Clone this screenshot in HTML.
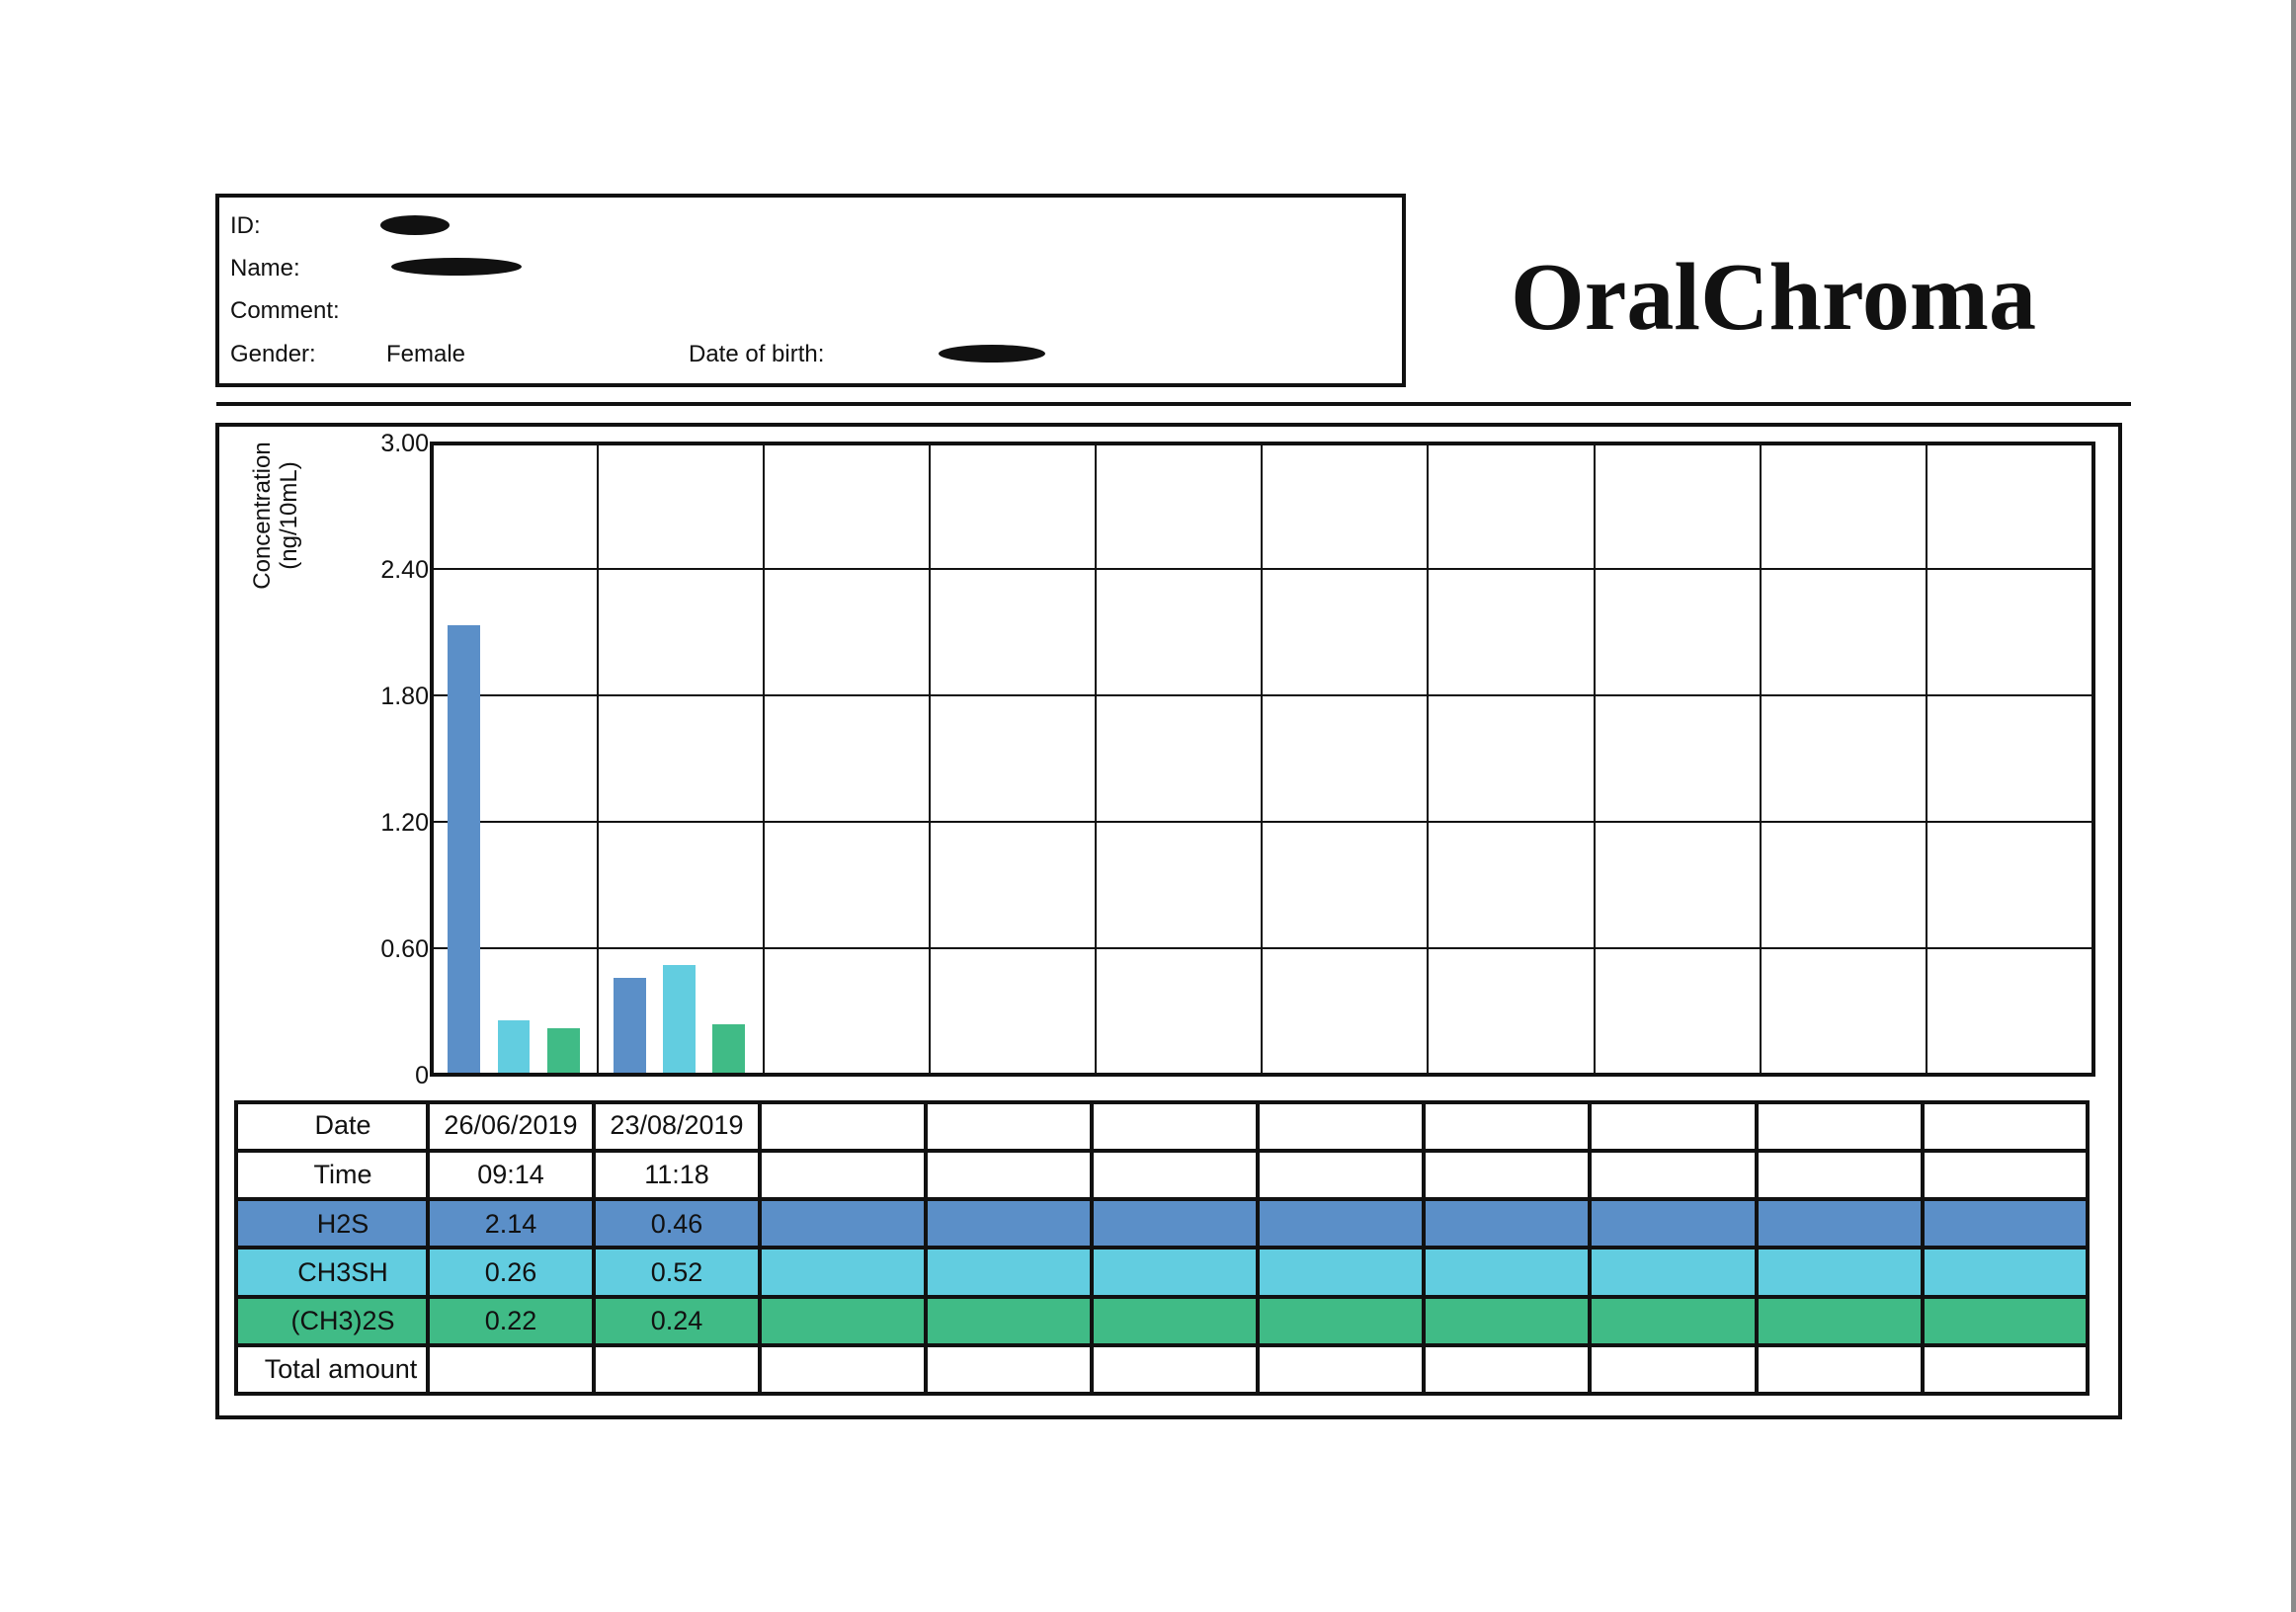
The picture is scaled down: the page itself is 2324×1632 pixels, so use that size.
<!DOCTYPE html>
<html><head><meta charset="utf-8"><style>
html,body{margin:0;padding:0;background:#fff}
svg{display:block}
text{font-family:"Liberation Sans",sans-serif;fill:#111}
</style></head><body>
<svg width="2324" height="1632" viewBox="0 0 2324 1632" xmlns="http://www.w3.org/2000/svg">
<rect x="0" y="0" width="2324" height="1632" fill="#fff"/>
<rect x="2319" y="0" width="5" height="1632" fill="#8a8a8a"/>

<!-- info box -->
<rect x="220" y="198" width="1201" height="192" fill="none" stroke="#111" stroke-width="4"/>
<g font-size="24">
<text x="233" y="236">ID:</text>
<text x="233" y="279">Name:</text>
<text x="233" y="322">Comment:</text>
<text x="233" y="366">Gender:</text>
<text x="391" y="366">Female</text>
<text x="697" y="366">Date of birth:</text>
</g>
<ellipse cx="420" cy="228" rx="35" ry="10" fill="#111"/>
<ellipse cx="462" cy="270" rx="66" ry="9" fill="#111"/>
<ellipse cx="1004" cy="358" rx="54" ry="9" fill="#111"/>

<text x="1529" y="333" font-family="'Liberation Serif',serif" font-weight="bold" font-size="98" textLength="532" lengthAdjust="spacingAndGlyphs" style="font-family:'Liberation Serif',serif">OralChroma</text>

<line x1="219" y1="409" x2="2157" y2="409" stroke="#111" stroke-width="4"/>

<!-- outer chart box -->
<rect x="220" y="430" width="1926" height="1005" fill="none" stroke="#111" stroke-width="4"/>

<!-- y axis title -->
<text transform="translate(273,522) rotate(-90)" text-anchor="middle" font-size="24">Concentration</text>
<text transform="translate(300,522) rotate(-90)" text-anchor="middle" font-size="24">(ng/10mL)</text>

<!-- tick labels -->
<g font-size="25" text-anchor="end">
<text x="434" y="457">3.00</text>
<text x="434" y="585">2.40</text>
<text x="434" y="713">1.80</text>
<text x="434" y="841">1.20</text>
<text x="434" y="969">0.60</text>
<text x="434" y="1097">0</text>
</g>

<!-- grid -->
<g stroke="#111" stroke-width="2">
<line x1="437" y1="576" x2="2119" y2="576"/>
<line x1="437" y1="704" x2="2119" y2="704"/>
<line x1="437" y1="832" x2="2119" y2="832"/>
<line x1="437" y1="960" x2="2119" y2="960"/>
<line x1="605" y1="448" x2="605" y2="1088"/>
<line x1="773" y1="448" x2="773" y2="1088"/>
<line x1="941" y1="448" x2="941" y2="1088"/>
<line x1="1109" y1="448" x2="1109" y2="1088"/>
<line x1="1277" y1="448" x2="1277" y2="1088"/>
<line x1="1445" y1="448" x2="1445" y2="1088"/>
<line x1="1614" y1="448" x2="1614" y2="1088"/>
<line x1="1782" y1="448" x2="1782" y2="1088"/>
<line x1="1950" y1="448" x2="1950" y2="1088"/>
</g>

<!-- bars -->
<rect x="453" y="633" width="33" height="455" fill="#5b8fc8"/>
<rect x="504" y="1033" width="32" height="55" fill="#62cde0"/>
<rect x="554" y="1041" width="33" height="47" fill="#40bb86"/>
<rect x="621" y="990" width="33" height="98" fill="#5b8fc8"/>
<rect x="671" y="977" width="33" height="111" fill="#62cde0"/>
<rect x="721" y="1037" width="33" height="51" fill="#40bb86"/>

<rect x="437" y="449" width="1682" height="639" fill="none" stroke="#111" stroke-width="4"/>

<!-- table -->
<rect x="238" y="1214" width="1875" height="49" fill="#5b8fc8"/>
<rect x="238" y="1263" width="1875" height="50" fill="#62cde0"/>
<rect x="238" y="1313" width="1875" height="49" fill="#40bb86"/>
<g stroke="#111" stroke-width="4">
<line x1="238" y1="1165" x2="2113" y2="1165"/>
<line x1="238" y1="1214" x2="2113" y2="1214"/>
<line x1="238" y1="1263" x2="2113" y2="1263"/>
<line x1="238" y1="1313" x2="2113" y2="1313"/>
<line x1="238" y1="1362" x2="2113" y2="1362"/>
<line x1="433" y1="1116" x2="433" y2="1411"/>
<line x1="601" y1="1116" x2="601" y2="1411"/>
<line x1="769" y1="1116" x2="769" y2="1411"/>
<line x1="937" y1="1116" x2="937" y2="1411"/>
<line x1="1105" y1="1116" x2="1105" y2="1411"/>
<line x1="1273" y1="1116" x2="1273" y2="1411"/>
<line x1="1441" y1="1116" x2="1441" y2="1411"/>
<line x1="1609" y1="1116" x2="1609" y2="1411"/>
<line x1="1778" y1="1116" x2="1778" y2="1411"/>
<line x1="1946" y1="1116" x2="1946" y2="1411"/>
</g>
<rect x="239" y="1116" width="1874" height="295" fill="none" stroke="#111" stroke-width="4"/>

<g font-size="27" text-anchor="middle">
<text x="347" y="1148">Date</text>
<text x="517" y="1148">26/06/2019</text>
<text x="685" y="1148">23/08/2019</text>
<text x="347" y="1198">Time</text>
<text x="517" y="1198">09:14</text>
<text x="685" y="1198">11:18</text>
<text x="347" y="1248">H2S</text>
<text x="517" y="1248">2.14</text>
<text x="685" y="1248">0.46</text>
<text x="347" y="1297">CH3SH</text>
<text x="517" y="1297">0.26</text>
<text x="685" y="1297">0.52</text>
<text x="347" y="1346">(CH3)2S</text>
<text x="517" y="1346">0.22</text>
<text x="685" y="1346">0.24</text>
<text x="345" y="1395">Total amount</text>
</g>
</svg>
</body></html>
